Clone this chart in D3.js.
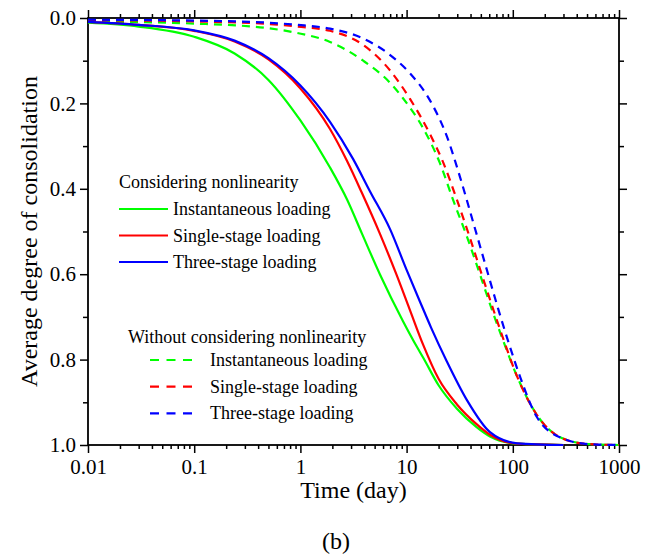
<!DOCTYPE html>
<html>
<head>
<meta charset="utf-8">
<script src="https://cdn.jsdelivr.net/npm/d3@7"></script>
<style>
  body { margin: 0; background: #fff; }
  svg { display: block; }
  svg text { font-family: "Liberation Serif", "Times New Roman", Times, "DejaVu Serif", serif; fill: #000; }
</style>
</head>
<body>
<div id="chart"></div>
<script>
// Average degree of consolidation vs time (log scale)

// considering nonlinearity (solid)
const tNlInst = [0.01, 0.03, 0.1, 0.24, 0.5, 1.0, 1.9, 2.75, 3.8, 5.6, 9.25, 12.5, 14.3, 20, 29.8, 45, 61, 110, 300];
const uNlInst = [0.011, 0.02, 0.044, 0.083, 0.145, 0.24, 0.35, 0.425, 0.505, 0.60, 0.71, 0.77, 0.795, 0.86, 0.915, 0.957, 0.98, 0.997, 1.0];

const tNlSingle = [0.01, 0.03, 0.1, 0.24, 0.5, 1.0, 1.9, 2.75, 3.8, 5.6, 8, 10.6, 14.3, 20, 29.8, 45, 61, 110, 300];
const uNlSingle = [0.009, 0.016, 0.03, 0.055, 0.097, 0.165, 0.26, 0.335, 0.41, 0.505, 0.60, 0.68, 0.765, 0.845, 0.905, 0.95, 0.976, 0.997, 1.0];

const tNlThree = [0.01, 0.03, 0.1, 0.24, 0.5, 1.0, 1.9, 3.13, 4.5, 7.0, 10, 13.4, 17, 24, 37, 61, 110, 300];
const uNlThree = [0.009, 0.016, 0.029, 0.053, 0.094, 0.158, 0.243, 0.33, 0.405, 0.495, 0.59, 0.665, 0.725, 0.805, 0.895, 0.97, 0.996, 1.0];

// without considering nonlinearity (dashed)
const tLinInst = [0.01, 0.1, 0.5, 0.93, 1.9, 3.9, 7.0, 9.25, 14.3, 20.6, 27.3, 37, 49, 65, 81, 110, 169, 297, 533, 1000];
const uLinInst = [0.008, 0.013, 0.024, 0.035, 0.056, 0.10, 0.152, 0.188, 0.258, 0.34, 0.425, 0.512, 0.60, 0.69, 0.755, 0.84, 0.93, 0.985, 0.998, 1.0];

const tLinSingle = [0.01, 0.1, 0.5, 0.93, 1.9, 3.9, 7.0, 10.8, 16.6, 22, 29.8, 39.5, 52, 65, 81, 110, 169, 297, 533, 1000];
const uLinSingle = [0.005, 0.008, 0.014, 0.02, 0.03, 0.063, 0.123, 0.19, 0.272, 0.337, 0.426, 0.515, 0.607, 0.68, 0.75, 0.84, 0.93, 0.985, 0.998, 1.0];

const tLinThree = [0.01, 0.1, 0.5, 0.93, 1.9, 3.9, 7.7, 10.8, 16.6, 24, 31.8, 42.2, 57, 72.6, 94, 117, 169, 297, 533, 1000];
const uLinThree = [0.004, 0.006, 0.011, 0.016, 0.025, 0.048, 0.095, 0.13, 0.193, 0.278, 0.372, 0.477, 0.59, 0.68, 0.77, 0.84, 0.935, 0.985, 0.998, 1.0];

const xMajor = [0.01, 0.1, 1, 10, 100, 1000];
const xMajorLabels = ["0.01", "0.1", "1", "10", "100", "1000"];
const yMajor = [0, 0.2, 0.4, 0.6, 0.8, 1.0];
const yMinor = [0.1, 0.3, 0.5, 0.7, 0.9];

const loadNames = ["Instantaneous loading", "Single-stage loading", "Three-stage loading"];
const colors = ["#00ff00", "#ff0000", "#0000ff"];

const width = 659, height = 558;
const margin = { left: 88, right: 40, top: 18, bottom: 113 };

const svg = d3.select("#chart").append("svg")
  .attr("width", width)
  .attr("height", height);

const x = d3.scaleLog().domain([0.01, 1000]).range([margin.left, width - margin.right]);
const y = d3.scaleLinear().domain([0, 1]).range([margin.top, height - margin.bottom]);

// minor ticks 2..9 in each decade
const xMinor = [];
for (let e = -2; e < 3; e++) {
  for (let k = 2; k <= 9; k++) xMinor.push(k * Math.pow(10, e));
}

const plotB = y(1), plotT = y(0), plotL = x(0.01), plotR = x(1000);

function styleAxis(g) {
  g.attr("font-family", null).attr("font-size", null);
  g.select(".domain").remove();
  g.selectAll(".tick line").attr("stroke", "#000").attr("stroke-width", 1.5);
  g.selectAll(".tick text").attr("font-size", 21).attr("fill", "#000");
}

// bottom
svg.append("g").attr("transform", `translate(0,${plotB})`)
  .call(d3.axisBottom(x).tickValues(xMinor).tickSize(4).tickFormat(""))
  .call(styleAxis);
svg.append("g").attr("transform", `translate(0,${plotB})`)
  .call(d3.axisBottom(x).tickValues(xMajor).tickSize(8).tickPadding(6)
    .tickFormat((d, i) => xMajorLabels[i]))
  .call(styleAxis);

// top
svg.append("g").attr("transform", `translate(0,${plotT})`)
  .call(d3.axisTop(x).tickValues(xMinor).tickSize(4).tickFormat(""))
  .call(styleAxis);
svg.append("g").attr("transform", `translate(0,${plotT})`)
  .call(d3.axisTop(x).tickValues(xMajor).tickSize(8).tickFormat(""))
  .call(styleAxis);

// left
svg.append("g").attr("transform", `translate(${plotL},0)`)
  .call(d3.axisLeft(y).tickValues(yMinor).tickSize(5).tickFormat(""))
  .call(styleAxis);
svg.append("g").attr("transform", `translate(${plotL},0)`)
  .call(d3.axisLeft(y).tickValues(yMajor).tickSize(8).tickPadding(4).tickFormat(d3.format(".1f")))
  .call(styleAxis);

// right
svg.append("g").attr("transform", `translate(${plotR},0)`)
  .call(d3.axisRight(y).tickValues(yMinor).tickSize(5).tickFormat(""))
  .call(styleAxis);
svg.append("g").attr("transform", `translate(${plotR},0)`)
  .call(d3.axisRight(y).tickValues(yMajor).tickSize(8).tickFormat(""))
  .call(styleAxis);

// frame
svg.append("rect")
  .attr("x", plotL).attr("y", plotT)
  .attr("width", plotR - plotL).attr("height", plotB - plotT)
  .attr("fill", "none").attr("stroke", "#000").attr("stroke-width", 1.8);

// curves
const line = d3.line()
  .x(d => x(d[0]))
  .y(d => y(d[1]))
  .curve(d3.curveMonotoneX);

const series = [
  { t: tLinInst, u: uLinInst, c: 0, dash: "8,6" },
  { t: tLinSingle, u: uLinSingle, c: 1, dash: "8,6" },
  { t: tLinThree, u: uLinThree, c: 2, dash: "8,6" },
  { t: tNlInst, u: uNlInst, c: 0, dash: null },
  { t: tNlSingle, u: uNlSingle, c: 1, dash: null },
  { t: tNlThree, u: uNlThree, c: 2, dash: null }
];

svg.append("g").selectAll("path")
  .data(series)
  .enter().append("path")
  .attr("d", s => line(s.t.map((t, i) => [t, s.u[i]])))
  .attr("fill", "none")
  .attr("stroke", s => colors[s.c])
  .attr("stroke-width", 2.2)
  .attr("stroke-dasharray", s => s.dash);

// legends
const fs = 18;
const leg1 = svg.append("g");
leg1.append("text").attr("x", 119).attr("y", 188).attr("font-size", fs)
  .text("Considering nonlinearity");
loadNames.forEach((name, i) => {
  const yy = 209 + i * 26.5;
  leg1.append("line").attr("x1", 119).attr("x2", 168).attr("y1", yy).attr("y2", yy)
    .attr("stroke", colors[i]).attr("stroke-width", 2.2);
  leg1.append("text").attr("x", 173).attr("y", yy + 6).attr("font-size", fs).text(name);
});

const leg2 = svg.append("g");
leg2.append("text").attr("x", 128).attr("y", 343).attr("font-size", fs)
  .text("Without considering nonlinearity");
loadNames.forEach((name, i) => {
  const yy = 360 + i * 26.7;
  leg2.append("line").attr("x1", 150).attr("x2", 197).attr("y1", yy).attr("y2", yy)
    .attr("stroke", colors[i]).attr("stroke-width", 2.2)
    .attr("stroke-dasharray", "9,7.5");
  leg2.append("text").attr("x", 210).attr("y", yy + 6).attr("font-size", fs).text(name);
});

// axis titles
svg.append("text")
  .attr("x", (plotL + plotR) / 2).attr("y", 498)
  .attr("text-anchor", "middle").attr("font-size", 24)
  .text("Time (day)");

svg.append("text")
  .attr("transform", `translate(37,${(plotT + plotB) / 2}) rotate(-90)`)
  .attr("text-anchor", "middle").attr("font-size", 24)
  .text("Average degree of consolidation");

svg.append("text")
  .attr("x", 336).attr("y", 549)
  .attr("text-anchor", "middle").attr("font-size", 24)
  .text("(b)");
</script>
</body>
</html>
